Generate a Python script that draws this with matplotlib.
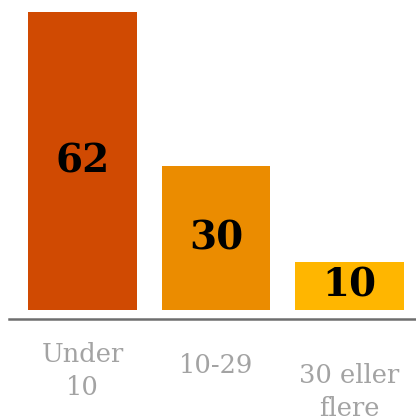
import matplotlib
matplotlib.use('Agg')
import matplotlib.pyplot as plt

categories = ['Under\n10', '10-29', '30 eller\nflere']
values = [62, 30, 10]
colors = ['#D04A02', '#EB8C00', '#FFB600']

W, H = 416, 418
fig = plt.figure(figsize=(W / 100, H / 100), dpi=100)
# axes: left edge at x=9px, bottom spine at y=319px from top
ax = fig.add_axes([9 / W, (H - 319) / H, 1 - 9 / W, 319 / H])

x = range(len(values))
bars = ax.bar(x, values, width=0.816, color=colors)
ax.bar_label(bars, labels=[str(v) for v in values], label_type='center',
             fontsize=28, fontweight='bold', family='DejaVu Serif', color='black')

ax.set_xlim(-0.551, 2.498)
ax.set_ylim(-1.88, 64.6)

for side in ['top', 'right', 'left']:
    ax.spines[side].set_visible(False)
ax.spines['bottom'].set_color('#6E6E6E')
ax.spines['bottom'].set_linewidth(1.8)
ax.set_xticks([])
ax.set_yticks([])

# category labels below the axis line (pixel tops taken from reference)
label_tops = [342, 353, 363]
for i, (cat, top) in enumerate(zip(categories, label_tops)):
    fx = (9 + (i + 0.551) * 133.5) / W
    fig.text(fx, 1 - top / H, cat, ha='center', va='top', fontsize=18.5,
             family='DejaVu Serif', color='#A3A3A3', linespacing=1.38,
             multialignment='center')

plt.savefig('out.png', dpi=100)
